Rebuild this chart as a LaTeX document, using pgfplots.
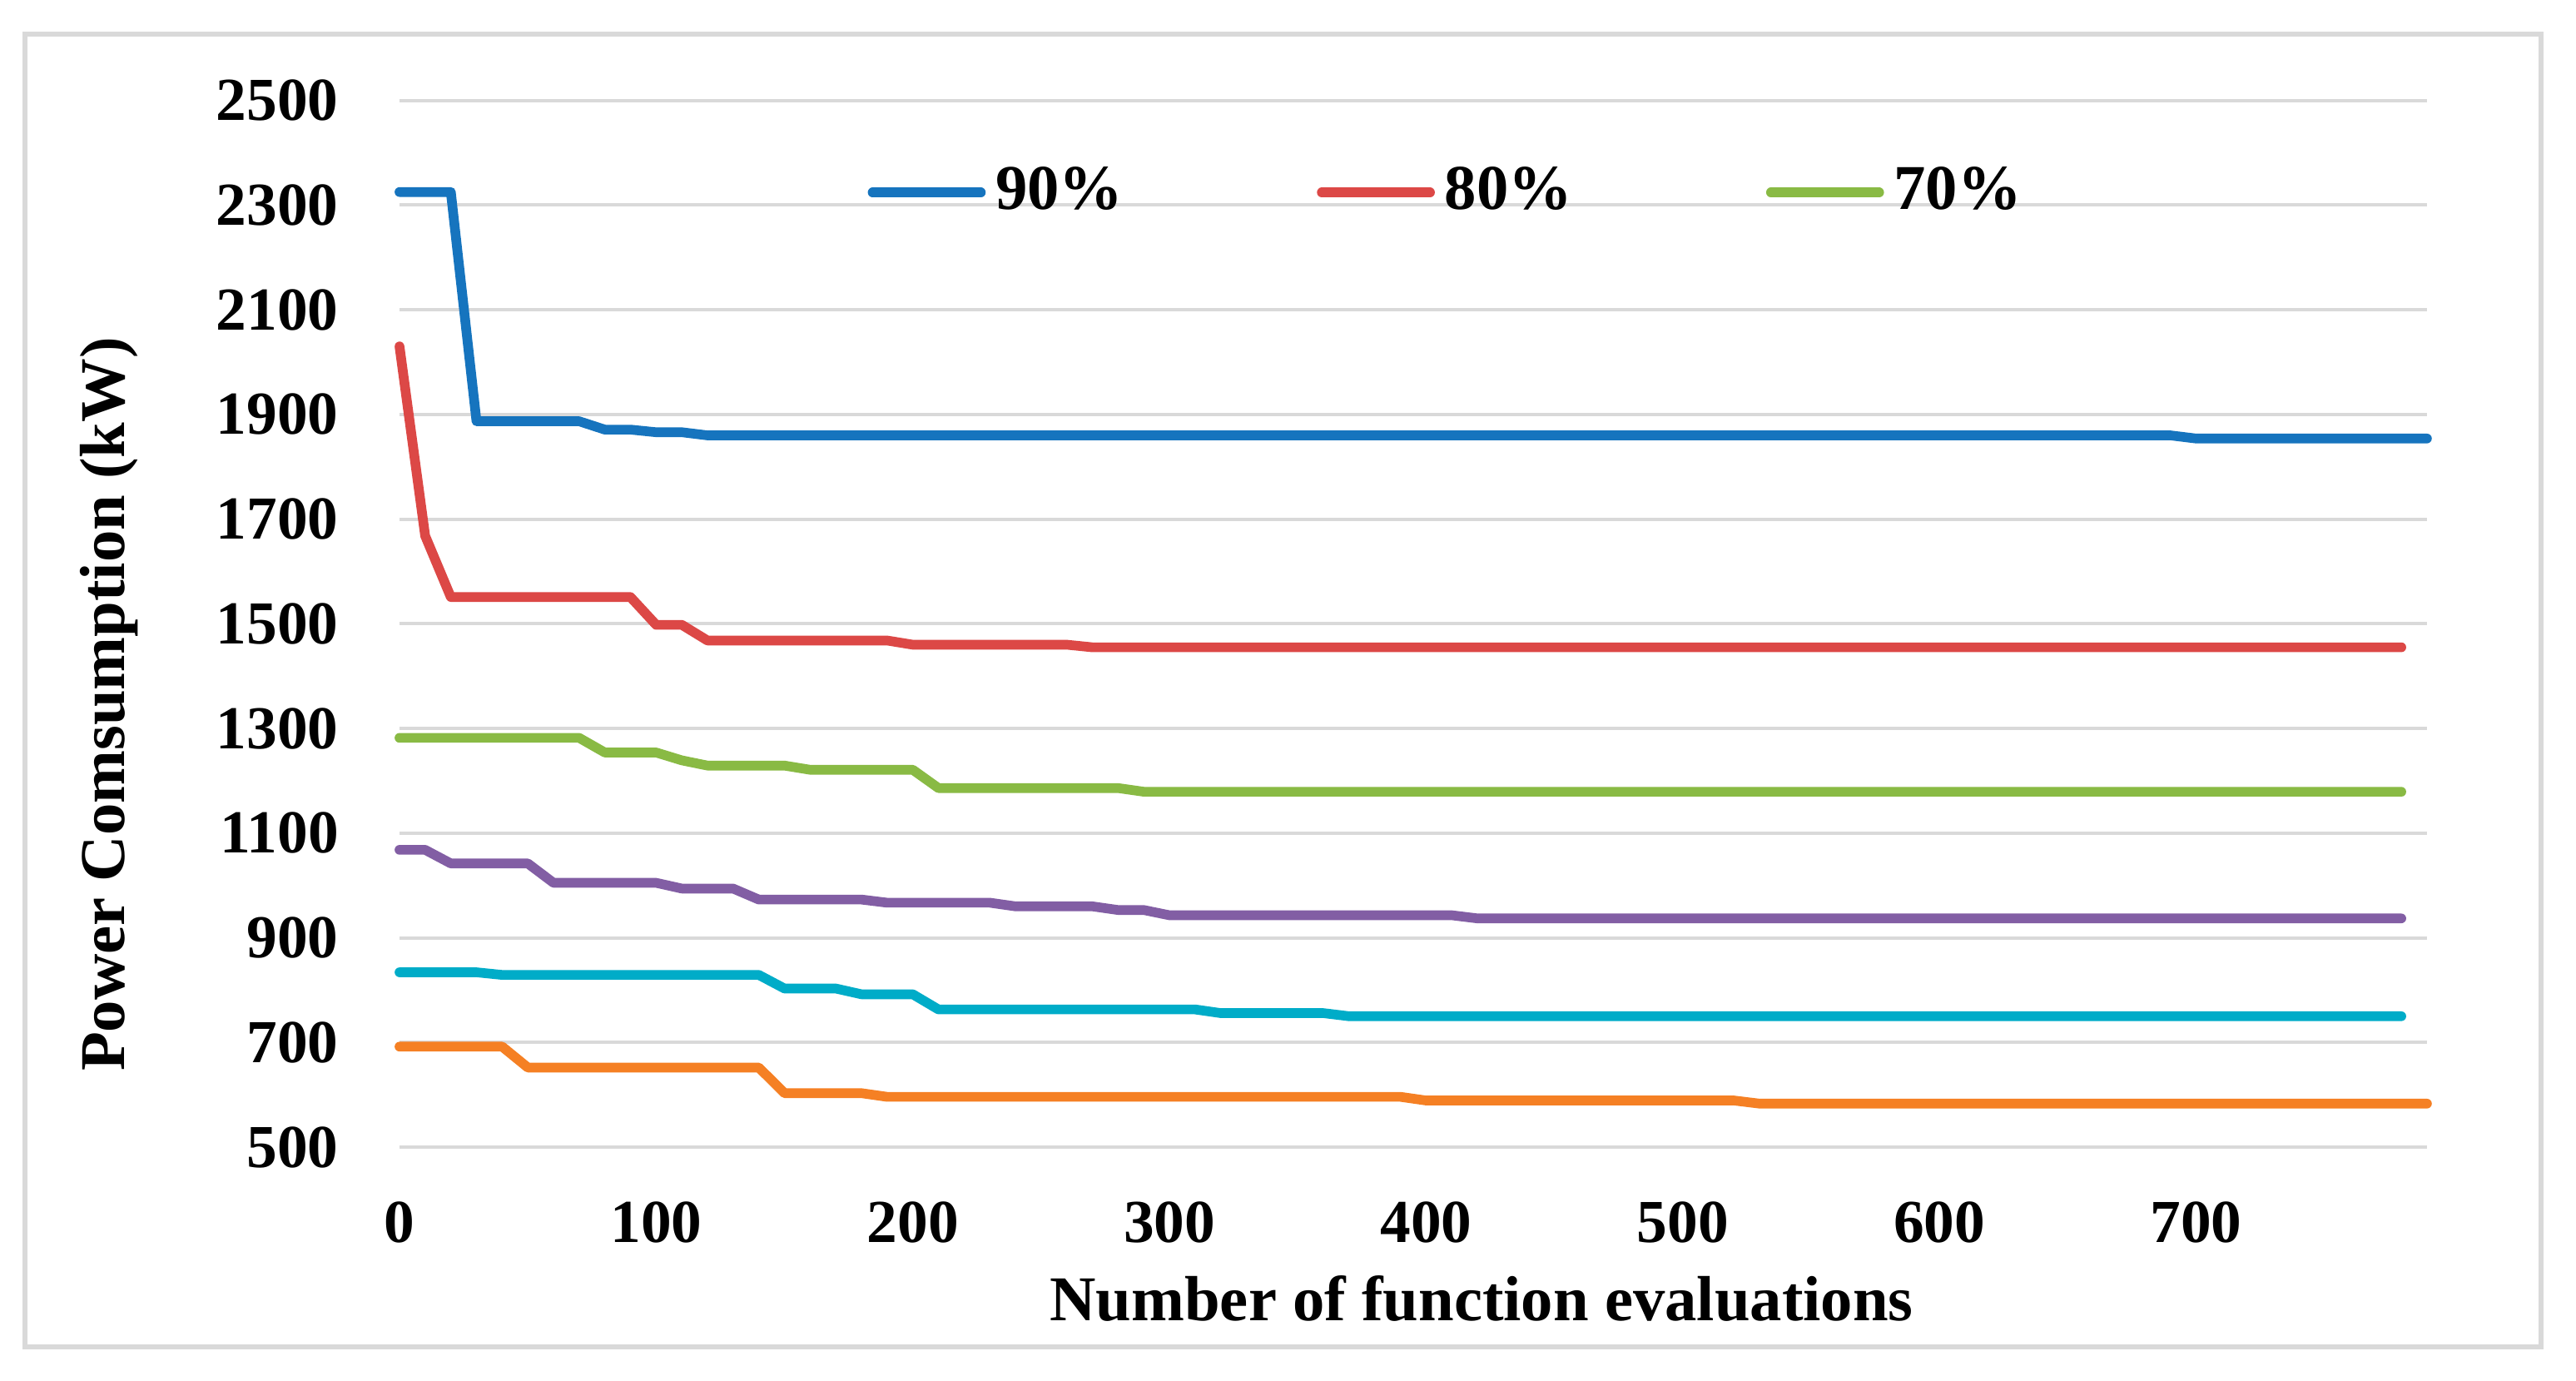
\documentclass[border=0pt]{standalone}
\usepackage{fontspec}
\setmainfont{Liberation Serif}
\usepackage{pgfplots}
\pgfplotsset{compat=1.18}
\definecolor{c90}{RGB}{22,116,190}
\definecolor{c80}{RGB}{220,72,70}
\definecolor{c70}{RGB}{137,186,68}
\definecolor{cpur}{RGB}{130,94,164}
\definecolor{ccya}{RGB}{0,172,200}
\definecolor{cora}{RGB}{245,128,36}
\definecolor{gridgray}{RGB}{217,217,217}
\begin{document}
\begin{tikzpicture}
\path[use as bounding box] (-72pt,-42.15pt) rectangle (392.25pt,206.7pt);
\begin{axis}[
  scale only axis,
  width=365.4pt, height=188.6pt,
  at={(0,0)}, anchor=south west,
  xmin=0, xmax=790, ymin=500, ymax=2500,
  xtick={0,100,...,700},
  ytick={500,700,...,2500},
  ymajorgrids,
  major grid style={color=gridgray, line width=0.6pt},
  axis line style={draw=none},
  major tick length=0pt,
  clip=false,
  scaled ticks=false,
  /pgf/number format/assume math mode=true,
  /pgf/number format/1000 sep={},
  tick label style={font=\bfseries\fontsize{11}{13}\selectfont},
  xticklabel style={anchor=base, yshift=-17.25pt, inner sep=0pt},
  yticklabel style={anchor=east, xshift=-10.8pt, inner sep=0pt},
  xlabel={Number of function evaluations},
  ylabel={Power Comsumption (kW)},
  label style={font=\bfseries\fontsize{11.5}{13}\selectfont},
  xlabel style={at={(axis description cs:0.5337,-0.1448)}, anchor=center},
  ylabel style={at={(axis description cs:-0.1433,0.423)}, anchor=center},
  every axis plot/.append style={line width=1.75pt, line cap=round, line join=round},
  legend columns=3,
  legend style={at={(axis description cs:0.2285,0.912)}, anchor=west,
    draw=none, fill=none, inner sep=0pt, outer sep=0pt,
    font=\bfseries\fontsize{11.5}{13}\selectfont,
    nodes={inner sep=0pt},
    /tikz/every odd column/.append style={column sep=0.9pt},
    /tikz/every even column/.append style={column sep=34.0pt}},
  legend image code/.code={\path (0pt,0pt) (21.3pt,0pt); \draw[#1] (0.9pt,0pt) -- (20.4pt,0pt);},
]
% 90%
\addplot[c90] coordinates {
(0,2325)(20,2325)(30,1887)(70,1887)(80,1871)(90,1871)(100,1866)(110,1866)
(120,1860)(690,1860)(700,1854)(790,1854)
};
\addlegendentry{90\%}
% 80%
\addplot[c80] coordinates {
(0,2030)(10,1668)(20,1551)(90,1551)(100,1498)(110,1498)(120,1468)(190,1468)
(200,1460)(260,1460)(270,1455)(780,1455)
};
\addlegendentry{80\%}
% 70%
\addplot[c70] coordinates {
(0,1282)(70,1282)(80,1254)(100,1254)(110,1239)(120,1229)(150,1229)(160,1221)
(200,1221)(210,1186)(280,1186)(290,1179)(780,1179)
};
\addlegendentry{70\%}
% unlabelled series
\addplot[cpur, forget plot] coordinates {
(0,1068)(10,1068)(20,1042)(50,1042)(60,1005)(100,1005)(110,994)(130,994)
(140,973)(180,973)(190,967)(230,967)(240,960)(270,960)(280,953)(290,953)
(300,943)(410,943)(420,937)(780,937)
};
\addplot[ccya, forget plot] coordinates {
(0,834)(30,834)(40,829)(140,829)(150,803)(170,803)(180,792)(200,792)
(210,763)(310,763)(320,756)(360,756)(370,750)(780,750)
};
\addplot[cora, forget plot] coordinates {
(0,692)(40,692)(50,652)(140,652)(150,603)(180,603)(190,596)(390,596)
(400,589)(520,589)(530,583)(790,583)
};
\end{axis}
% outer chart frame
\draw[gridgray, line width=0.8pt] (-67.5pt,-36pt) rectangle (385.95pt,200.55pt);
\end{tikzpicture}
\end{document}
